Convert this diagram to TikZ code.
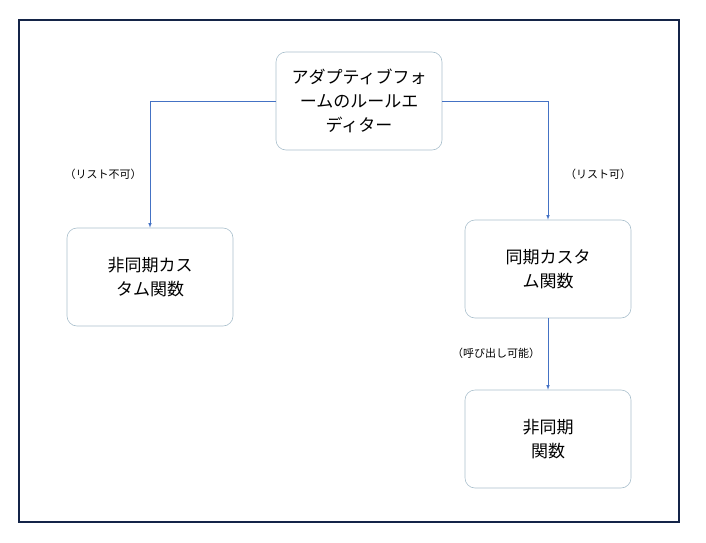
\documentclass[tikz,border=0pt]{standalone}
\usepackage{fontspec}
\newfontfamily\cjk{Noto Sans CJK JP}
\usetikzlibrary{arrows}
\definecolor{boxline}{RGB}{170,192,205}
\definecolor{linkblue}{RGB}{68,114,196}
\definecolor{framenavy}{RGB}{20,36,72}
\tikzstyle{bx} = [rectangle, draw=boxline, fill=white, rounded corners=10pt,
    minimum width=166pt, minimum height=98pt, align=center,
    font=\cjk\fontsize{17}{24}\selectfont]
\tikzstyle{lbl} = [font=\cjk\fontsize{11}{14}\selectfont]

\begin{document}
\begin{tikzpicture}[x=1pt,y=1pt,->,>=latex,linkblue,semithick]
  \useasboundingbox (0,0) rectangle (706,542);
  \draw[-,framenavy,line width=2.5pt] (19,20) rectangle (679,522);

  \node[bx,text=black] (editor) at (359,441) {アダプティブフォ\\ームのルールエ\\ディター};
  \node[bx,text=black] (async)  at (150,265) {非同期カス\\タム関数};
  \node[bx,text=black] (sync)   at (548,273) {同期カスタ\\ム関数};
  \node[bx,text=black] (asyncf) at (548,103) {非同期\\関数};

  \draw (editor.west) -| (async.north);
  \draw (editor.east) -| (sync.north);
  \draw (sync.south) -- (asyncf.north);

  \node[lbl,text=black] (nolist) at (103,368) {（リスト不可）};
  \node[lbl,text=black] (list)   at (598,368) {（リスト可）};
  \node[lbl,text=black] (call)   at (496,189) {（呼び出し可能）};
\end{tikzpicture}
\end{document}
